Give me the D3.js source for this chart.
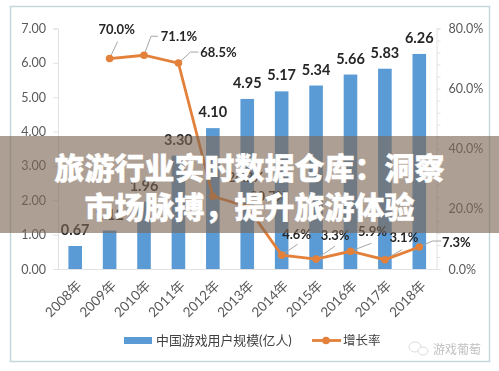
<!DOCTYPE html>
<html>
<head>
<meta charset="utf-8">
<script src="https://cdn.jsdelivr.net/npm/d3@7"></script>
<style>
html, body { margin: 0; padding: 0; background: #fff; }
svg { display: block; }
text { font-family: Lato, "Noto Sans CJK SC", sans-serif; }
</style>
</head>
<body>
<div id="chart"></div>
<script>
const years = ['2008年', '2009年', '2010年', '2011年', '2012年', '2013年', '2014年', '2015年', '2016年', '2017年', '2018年'];
const users = [0.67, 1.12, 1.96, 3.30, 4.10, 4.95, 5.17, 5.34, 5.66, 5.83, 6.26];
const growth = [null, 70.0, 71.1, 68.5, 24.2, 20.7, 4.6, 3.3, 5.9, 3.1, 7.3];
const leftTicks = [0, 1, 2, 3, 4, 5, 6, 7];
const rightTicks = [0, 20, 40, 60, 80];
const barName = '中国游戏用户规模(亿人)';
const lineName = '增长率';
const bannerLines = ['旅游行业实时数据仓库：洞察', '市场脉搏，提升旅游体验'];
const watermark = '游戏葡萄';

const width = 499, height = 371;
const plot = {left: 58, right: 436.5, top: 28.5, bottom: 269};

// label centre and leader bend, relative to the point
const labelPlacement = {
    '2009年': {dx: 7, dy: -29, leader: [[8, -17]]},
    '2010年': {dx: 35, dy: -19, leader: [[7, -19], [14, -19]]},
    '2011年': {dx: 40, dy: -11, leader: [[12, -11], [20, -11]]},
    '2012年': {dx: 33, dy: -19, leader: []},
    '2013年': {dx: 21, dy: -10, leader: []},
    '2014年': {dx: 15, dy: -21, leader: [[16, -11]]},
    '2015年': {dx: 19, dy: -24, leader: [[19, -13]]},
    '2016年': {dx: 22, dy: -20, leader: [[21, -8]]},
    '2017年': {dx: 19, dy: -22, leader: [[17, -10]]},
    '2018年': {dx: 37, dy: -5, leader: [[13, -6], [22, -6]]}
};

const svg = d3.select('#chart').append('svg')
    .attr('width', width)
    .attr('height', height);

const chart = svg.append('g').style('filter', 'blur(0.4px)');

chart.append('rect')
    .attr('x', 10.5).attr('y', 6.5)
    .attr('width', 479).attr('height', 355)
    .attr('fill', '#fff')
    .attr('stroke', '#c6d6dd')
    .attr('stroke-width', 1.5);

const x = d3.scaleBand().domain(years).range([plot.left, plot.right]);
const yLeft = d3.scaleLinear().domain([0, 7]).range([plot.bottom, plot.top]);
const yRight = d3.scaleLinear().domain([0, 80]).range([plot.bottom, plot.top]);

// axes
const axisLeft = chart.append('g')
    .attr('transform', `translate(${plot.left},0)`)
    .call(d3.axisLeft(yLeft).tickValues(leftTicks).tickFormat(d3.format('.2f')).tickSize(5).tickPadding(7));
const axisRight = chart.append('g')
    .attr('transform', `translate(${plot.right},0)`)
    .call(d3.axisRight(yRight).tickValues(d3.range(0, 81, 4)).tickFormat(d => rightTicks.includes(d) ? d3.format('.1f')(d) + '%' : '').tickSize(4).tickPadding(8));
const axisBottom = chart.append('g')
    .attr('transform', `translate(0,${plot.bottom})`)
    .call(d3.axisBottom(x).tickSize(0));

[axisLeft, axisRight, axisBottom].forEach(axis => {
    axis.selectAll('.domain, line').attr('stroke', '#e2e2e2');
    axis.selectAll('text').attr('fill', '#595959').style('font-size', '12.5px');
});
axisBottom.selectAll('text')
    .attr('text-anchor', 'end')
    .attr('x', 0)
    .attr('y', 0)
    .attr('dy', '0.35em')
    .attr('transform', 'translate(4,14) rotate(-45)')
    .style('font-size', '13.5px');

// bars
const barWidth = 13.6;
chart.append('g').selectAll('rect')
    .data(years)
    .join('rect')
    .attr('x', d => x(d) + x.bandwidth() / 2 - barWidth / 2)
    .attr('y', (d, i) => yLeft(users[i]))
    .attr('width', barWidth)
    .attr('height', (d, i) => plot.bottom - yLeft(users[i]))
    .attr('fill', '#5b9bd5');

chart.append('g').selectAll('text')
    .data(years)
    .join('text')
    .attr('x', d => x(d) + x.bandwidth() / 2)
    .attr('y', (d, i) => yLeft(users[i]) - 16)
    .attr('dy', '0.35em')
    .attr('text-anchor', 'middle')
    .attr('font-weight', 700)
    .attr('fill', '#262626')
    .style('font-size', '14.5px')
    .text((d, i) => d3.format('.2f')(users[i]));

// growth line
const linePoints = years
    .map((d, i) => ({year: d, value: growth[i], px: x(d) + x.bandwidth() / 2, py: yRight(growth[i])}))
    .filter(d => d.value !== null);

const leaders = chart.append('g');
linePoints.forEach(d => {
    const place = labelPlacement[d.year];
    if (!place.leader.length) return;
    leaders.append('path')
        .attr('d', d3.line()([[d.px, d.py], ...place.leader.map(p => [d.px + p[0], d.py + p[1]])]))
        .attr('fill', 'none')
        .attr('stroke', '#a6a6a6')
        .attr('stroke-width', 1);
});

chart.append('path')
    .datum(linePoints)
    .attr('d', d3.line().x(d => d.px).y(d => d.py))
    .attr('fill', 'none')
    .attr('stroke', '#e3803a')
    .attr('stroke-width', 2.8);

chart.append('g').selectAll('circle')
    .data(linePoints)
    .join('circle')
    .attr('cx', d => d.px)
    .attr('cy', d => d.py)
    .attr('r', 3.8)
    .attr('fill', '#e3803a');

chart.append('g').selectAll('text')
    .data(linePoints)
    .join('text')
    .attr('x', d => d.px + labelPlacement[d.year].dx)
    .attr('y', d => d.py + labelPlacement[d.year].dy)
    .attr('dy', '0.35em')
    .attr('text-anchor', 'middle')
    .attr('font-weight', 700)
    .attr('fill', '#262626')
    .style('font-size', '13px')
    .text(d => d3.format('.1f')(d.value) + '%');

// legend
const legendY = 340.5;
chart.append('rect')
    .attr('x', 124).attr('y', legendY - 3.5)
    .attr('width', 28).attr('height', 7)
    .attr('fill', '#5b9bd5');
chart.append('text')
    .attr('x', 156).attr('y', legendY).attr('dy', '0.35em')
    .attr('fill', '#404040')
    .style('font-size', '12.9px')
    .text(barName);
chart.append('line')
    .attr('x1', 312).attr('x2', 341)
    .attr('y1', legendY).attr('y2', legendY)
    .attr('stroke', '#e3803a')
    .attr('stroke-width', 2.8);
chart.append('circle')
    .attr('cx', 326).attr('cy', legendY).attr('r', 3.8)
    .attr('fill', '#e3803a');
chart.append('text')
    .attr('x', 343).attr('y', legendY).attr('dy', '0.35em')
    .attr('fill', '#404040')
    .style('font-size', '12.5px')
    .text(lineName);

// watermark
const mark = chart.append('g').attr('fill', '#fff').attr('stroke', '#dcdcdc');
mark.append('ellipse').attr('cx', 415).attr('cy', 347).attr('rx', 6).attr('ry', 5);
mark.append('ellipse').attr('cx', 423).attr('cy', 351).attr('rx', 5).attr('ry', 4);
chart.append('text')
    .attr('x', 433).attr('y', 349.5).attr('dy', '0.35em')
    .attr('fill', '#c0c0c0')
    .style('font-size', '12px')
    .text(watermark);

// banner over the chart
svg.append('rect')
    .attr('x', 0).attr('y', 136)
    .attr('width', width).attr('height', 97)
    .attr('fill', '#7d6754')
    .attr('fill-opacity', 0.63);

svg.append('g').selectAll('text')
    .data(bannerLines)
    .join('text')
    .attr('x', width / 2)
    .attr('y', (d, i) => 168 + i * 39)
    .attr('dy', '0.36em')
    .attr('text-anchor', 'middle')
    .attr('font-weight', 900)
    .attr('fill', '#fff')
    .attr('stroke', '#fff')
    .attr('stroke-width', 0.4)
    .style('font-family', '"Noto Sans CJK SC", sans-serif')
    .style('font-size', '30px')
    .text(d => d);
</script>
</body>
</html>
